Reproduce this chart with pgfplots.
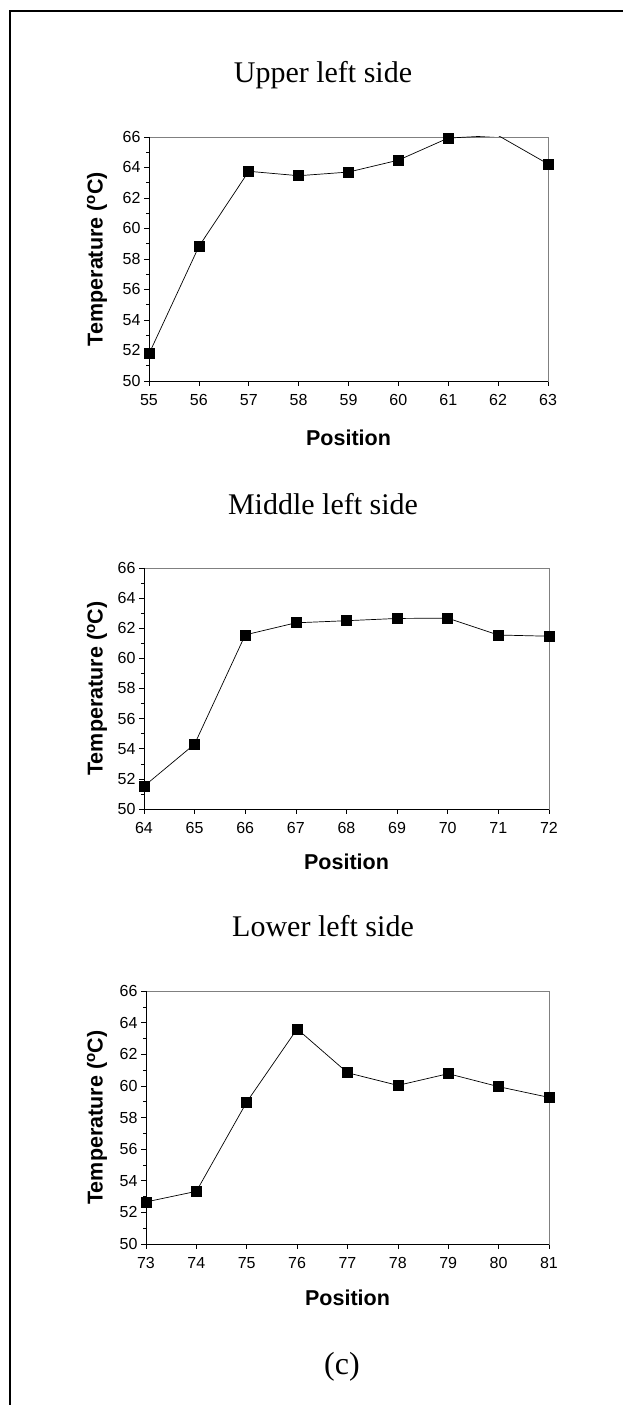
\documentclass[border=0pt]{standalone}
\usepackage{pgfplots}
\pgfplotsset{compat=1.18}
\usepackage{fontspec}
\setmainfont{Liberation Serif}
\newfontfamily\arial{Liberation Sans}

\pgfplotsset{
  tline/.style={black, line width=0.7pt, mark=square*, mark size=5pt, mark options={solid, fill=black, draw=black}},
  tempax/.style={
    scale only axis,
    anchor=south west,
    ymin=50, ymax=66,
    ytick={50,52,...,66},
    minor ytick={51,53,...,65},
    xtick=data,
    tick align=outside,
    xtick pos=left, ytick pos=left,
    major tick length=5pt, minor tick length=3pt,
    tick style={black, line width=0.6pt},
    minor tick style={black, line width=0.6pt},
    axis line style={draw=gray, line width=0.8pt},
    tick label style={font=\arial\fontsize{16}{18}\selectfont},
    xticklabel style={yshift=-5pt},
    /pgf/number format/assume math mode=true,
    label style={font=\arial\bfseries\fontsize{21.5}{24}\selectfont},
    xlabel=Position,
    ylabel={Temperature (\textsuperscript{o}C)},
    after end axis/.code={\draw[black,line width=0.8pt] (rel axis cs:0,1) -- (rel axis cs:0,0) -- (rel axis cs:1,0);},
  }
}

\begin{document}
\begin{tikzpicture}
\useasboundingbox (0pt,0pt) rectangle (623pt,1405pt);
\draw[line width=2pt] (9.5pt,0pt) -- (9.5pt,1393.5pt) -- (623pt,1393.5pt);

\node[font=\fontsize{30}{34}\selectfont, anchor=base] at (323pt,1322pt) {Upper left side};
\node[font=\fontsize{30}{34}\selectfont, anchor=base] at (323pt,890pt) {Middle left side};
\node[font=\fontsize{30}{34}\selectfont, anchor=base] at (323pt,468pt) {Lower left side};
\node[font=\fontsize{32}{36}\selectfont, anchor=base] at (342pt,30pt) {(c)};

\begin{axis}[tempax, at={(149pt,1024pt)}, width=399pt, height=244pt,
  xmin=55, xmax=63,
  xlabel style={at={(axis description cs:0.5,0)}, anchor=center, yshift=-57pt},
  ylabel style={at={([xshift=-52pt]axis description cs:0,0.5)}, anchor=center}]
\addplot[tline] coordinates {
(55,51.78) (56,58.82) (57,63.75) (58,63.46) (59,63.70) (60,64.48) (61,65.93) (62,66.1) (63,64.23)};
\end{axis}

\begin{axis}[tempax, at={(144pt,596pt)}, width=405pt, height=241pt,
  xmin=64, xmax=72,
  xlabel style={at={(axis description cs:0.5,0)}, anchor=center, yshift=-53pt},
  ylabel style={at={([xshift=-47pt]axis description cs:0,0.5)}, anchor=center}]
\addplot[tline] coordinates {
(64,51.51) (65,54.31) (66,61.56) (67,62.36) (68,62.50) (69,62.65) (70,62.67) (71,61.55) (72,61.47)};
\end{axis}

\begin{axis}[tempax, at={(146pt,161pt)}, width=403pt, height=253pt,
  xmin=73, xmax=81,
  xlabel style={at={(axis description cs:0.5,0)}, anchor=center, yshift=-54pt},
  ylabel style={at={([xshift=-49pt]axis description cs:0,0.5)}, anchor=center}]
\addplot[tline] coordinates {
(73,52.66) (74,53.33) (75,58.98) (76,63.60) (77,60.83) (78,60.03) (79,60.77) (80,59.95) (81,59.27)};
\end{axis}
\end{tikzpicture}
\end{document}
